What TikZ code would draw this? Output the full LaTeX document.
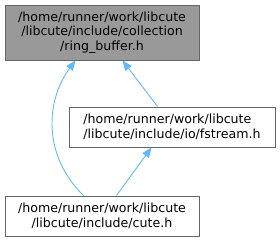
\documentclass[tikz,border=0pt]{standalone}
\usepackage{fontspec}
\setmainfont{DejaVu Sans}
\usetikzlibrary{arrows.meta}
\definecolor{edgeblue}{HTML}{63B8FF}
\definecolor{boxborder}{HTML}{666666}
\definecolor{boxfill}{HTML}{999999}
\tikzset{
  filebox/.style={draw=boxborder, line width=1pt, inner sep=0pt, font=\fontsize{12.6}{14.6}\selectfont},
  dep/.style={draw=edgeblue, line width=0.9pt, {Triangle[length=10pt,width=8pt,fill=edgeblue]}-}
}
\begin{document}
\begin{tikzpicture}[x=1pt,y=-1pt]
\useasboundingbox (0,0) rectangle (280,241);
\node[filebox, fill=boxfill, minimum width=194pt, minimum height=55pt, align=center] (top) at (102,32.5)
  {/home/runner/work/libcute\\/libcute/include/collection\\/ring\_buffer.h};
\node[filebox, fill=white, minimum width=206pt, minimum height=40pt, align=left] (mid) at (172,127)
  {/home/runner/work/libcute\\/libcute/include/io/fstream.h};
\node[filebox, fill=white, minimum width=194pt, minimum height=40pt, align=center] (bot) at (102,216)
  {/home/runner/work/libcute\\/libcute/include/cute.h};
\draw[dep] ([xshift=71pt]top.south west) .. controls (46,100) and (42,155) .. ([xshift=79pt]bot.north west);
\draw[dep] ([xshift=118pt]top.south west) -- ([xshift=89pt]mid.north west);
\draw[dep] ([xshift=83pt]mid.south west) -- ([xshift=112pt]bot.north west);
\end{tikzpicture}
\end{document}
